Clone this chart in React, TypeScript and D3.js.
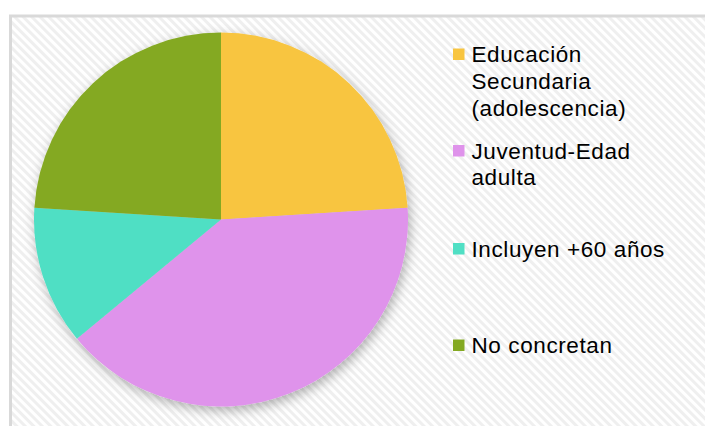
import { useEffect, useRef } from "react";
import * as d3 from "d3";

const WIDTH = 705;
const HEIGHT = 426;
const CENTER = { X: 221, Y: 219.5 };
const RADIUS = 187;

// slice data, clockwise from 12 o'clock
const categories = [
  "Educación Secundaria (adolescencia)",
  "Juventud-Edad adulta",
  "Incluyen +60 años",
  "No concretan",
];
const values = [24, 40, 12, 24];
const colors = ["#F8C540", "#DF93EB", "#50DFC4", "#84A922"];

// legend text as it wraps in the picture
const legendLines = [
  ["Educación", "Secundaria", "(adolescencia)"],
  ["Juventud-Edad", "adulta"],
  ["Incluyen +60 años"],
  ["No concretan"],
];
const legendBaselines = [62, 158.5, 256.5, 353];

interface Slice {
  label: string;
  value: number;
  color: string;
}

const App = () => {
  const pieRef = useRef<SVGGElement | null>(null);
  const legendRef = useRef<SVGGElement | null>(null);

  useEffect(() => {
    const data: Slice[] = categories.map((c, i) => ({
      label: c,
      value: values[i],
      color: colors[i],
    }));

    const g = d3.select(pieRef.current);
    g.selectAll("*").remove();

    const pie = d3
      .pie<Slice>()
      .sort(null)
      .value((d) => d.value);
    const arc = d3.arc<d3.PieArcDatum<Slice>>().innerRadius(0).outerRadius(RADIUS);

    g.attr("filter", "url(#pieShadow)")
      .selectAll("path")
      .data(pie(data))
      .join("path")
      .attr("d", arc)
      .attr("fill", (d) => d.data.color);

    const legend = d3.select(legendRef.current);
    legend.selectAll("*").remove();

    legend
      .selectAll(".legend-item")
      .data(data)
      .join("g")
      .attr("class", "legend-item")
      .attr("transform", (_, i) => `translate(453, ${legendBaselines[i]})`)
      .each(function (d, i) {
        const item = d3.select(this);
        item
          .append("rect")
          .attr("x", 0)
          .attr("y", -13.5)
          .attr("width", 11.5)
          .attr("height", 11.5)
          .attr("fill", d.color);

        const text = item
          .append("text")
          .attr("x", 18.5)
          .attr("y", 0)
          .style("font-family", "'Liberation Sans', Arial, sans-serif")
          .style("font-size", "22.5px")
          .style("letter-spacing", "0.6px")
          .attr("fill", "#000");

        legendLines[i].forEach((line, j) => {
          text
            .append("tspan")
            .attr("x", 18.5)
            .attr("dy", j === 0 ? 0 : 26.8)
            .text(line);
        });
      });
  }, []);

  return (
    <svg
      width={WIDTH}
      height={HEIGHT}
      style={{ position: "absolute", left: 0, top: 0, display: "block" }}
    >
      <defs>
        <pattern
          id="stripes"
          width={6}
          height={6}
          patternUnits="userSpaceOnUse"
          patternTransform="rotate(45)"
        >
          <rect width={6} height={6} fill="#ffffff" />
          <rect width={6} height={3} fill="#efefef" />
        </pattern>
        <filter id="pieShadow" x="-20%" y="-20%" width="140%" height="140%">
          <feDropShadow dx={2} dy={4} stdDeviation={6} floodColor="#000" floodOpacity={0.3} />
        </filter>
      </defs>
      <rect width={WIDTH} height={HEIGHT} fill="#ffffff" />
      {/* chart frame, runs off the right and bottom edges */}
      <rect x={10.5} y={16} width={WIDTH} height={HEIGHT} fill="url(#stripes)" stroke="#d9d9d9" strokeWidth={3} />
      <g ref={pieRef} transform={`translate(${CENTER.X}, ${CENTER.Y})`} />
      <g ref={legendRef} />
    </svg>
  );
};

export default App;
